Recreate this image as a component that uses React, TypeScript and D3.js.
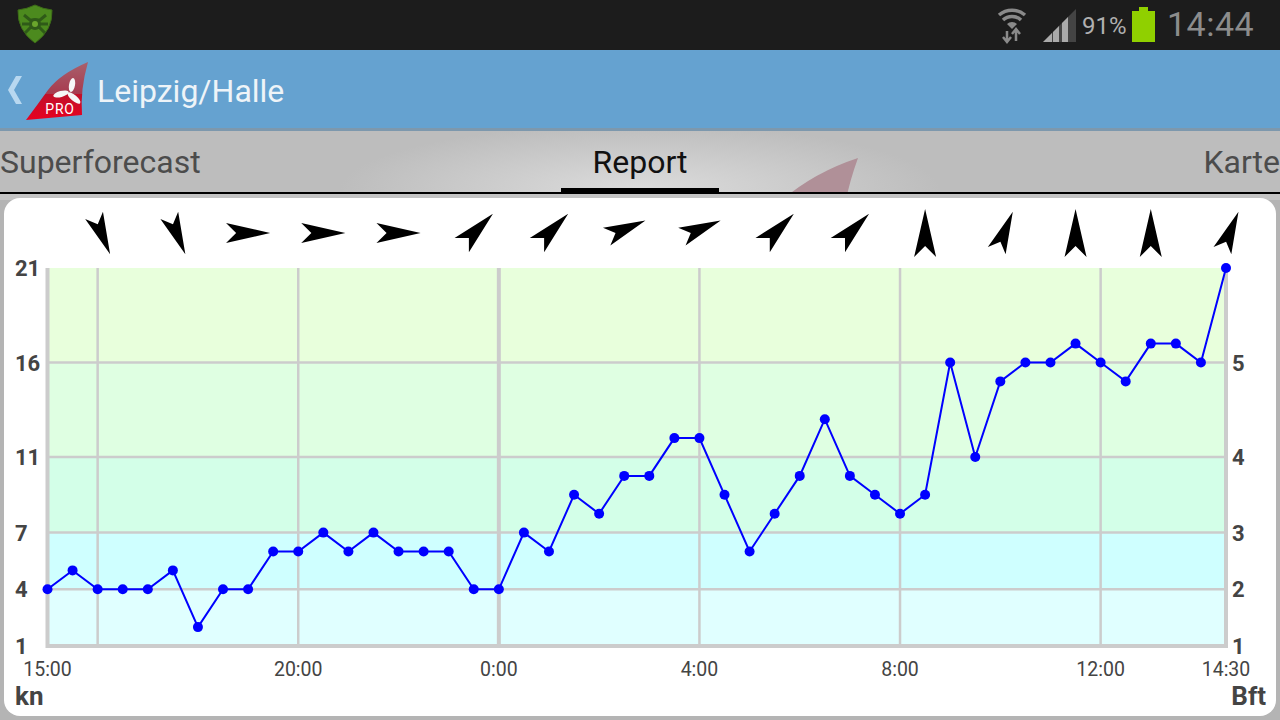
import { useEffect, useRef } from "react";
import * as d3 from "d3";

// wind speed in knots, one reading every 30 min from 15:00 to 14:30
const windKn = [
  4, 5, 4, 4, 4, 5, 2, 4, 4, 6, 6, 7, 6, 7, 6, 6, 6, 4, 4, 7, 6, 9, 8, 10, 10,
  12, 12, 9, 6, 8, 10, 13, 10, 9, 8, 9, 16, 11, 15, 16, 16, 17, 16, 15, 17, 17,
  16, 21,
];
// reading each direction arrow sits over, and its heading (degrees clockwise from north)
const arrowIndex = [2, 5, 8, 11, 14, 17, 20, 23, 26, 29, 32, 35, 38, 41, 44, 47];
const arrowHeading = [
  157.5, 157.5, 90, 90, 90, 45, 45, 67.5, 67.5, 45, 45, 0, 22.5, 0, 0, 22.5,
];
const knTicks = [1, 4, 7, 11, 16, 21];
const bftTicks = [
  { kn: 1, label: "1" },
  { kn: 4, label: "2" },
  { kn: 7, label: "3" },
  { kn: 11, label: "4" },
  { kn: 16, label: "5" },
];
const timeTicks = [
  { i: 0, label: "15:00" },
  { i: 10, label: "20:00" },
  { i: 18, label: "0:00" },
  { i: 26, label: "4:00" },
  { i: 34, label: "8:00" },
  { i: 42, label: "12:00" },
  { i: 47, label: "14:30" },
];
const bands = [
  { from: 1, to: 4, fill: "#e0ffff" },
  { from: 4, to: 7, fill: "#cfffff" },
  { from: 7, to: 11, fill: "#d3ffe8" },
  { from: 11, to: 16, fill: "#dfffe2" },
  { from: 16, to: 21, fill: "#e8ffdc" },
];

const font = "Roboto, sans-serif";

// the arrow is a bitmap in the app: rotated ones shrink a bit and stay centred in their slot
const arrowPoints: [number, number][] = [
  [0, -24],
  [11, 24],
  [-11, 24],
];
function arrowTransform(heading: number, cx: number, cy: number) {
  const scale = heading === 0 ? 1 : heading % 45 === 0 ? 0.92 : 0.875;
  const a = (heading * Math.PI) / 180;
  const rotated = arrowPoints.map(([px, py]) => [
    scale * (px * Math.cos(a) - py * Math.sin(a)),
    scale * (px * Math.sin(a) + py * Math.cos(a)),
  ]);
  const [x0, x1] = d3.extent(rotated, (p) => p[0]) as [number, number];
  const [y0, y1] = d3.extent(rotated, (p) => p[1]) as [number, number];
  const dx = cx - (x0 + x1) / 2;
  const dy = cy - (y0 + y1) / 2;
  return `translate(${dx},${dy}) rotate(${heading}) scale(${scale})`;
}

function Chart() {
  const ref = useRef<SVGGElement>(null);

  useEffect(() => {
    const g = d3.select(ref.current);
    g.selectAll("*").remove();

    const x = d3.scaleLinear().domain([0, windKn.length - 1]).range([47.5, 1226]);
    const y = d3.scaleLinear().domain([1, 21]).range([646, 268]);

    // colour bands
    g.selectAll(".band")
      .data(bands)
      .enter()
      .append("rect")
      .attr("x", x(0))
      .attr("width", x(47) - x(0))
      .attr("y", (d) => y(d.to))
      .attr("height", (d) => y(d.from) - y(d.to))
      .attr("fill", (d) => d.fill);

    // grid
    g.selectAll(".hgrid")
      .data(knTicks.slice(1, 5))
      .enter()
      .append("line")
      .attr("x1", x(0))
      .attr("x2", x(47))
      .attr("y1", (d) => y(d))
      .attr("y2", (d) => y(d))
      .attr("stroke", "#cccccc")
      .attr("stroke-width", 2.5);

    g.selectAll(".vgrid")
      .data([2, 10, 18, 26, 34, 42])
      .enter()
      .append("line")
      .attr("x1", (d) => x(d))
      .attr("x2", (d) => x(d))
      .attr("y1", y(21))
      .attr("y2", y(1))
      .attr("stroke", "#cccccc")
      .attr("stroke-width", (d) => (d === 18 ? 4 : 2.5));

    // frame: left, bottom and right edges
    g.append("path")
      .attr("d", `M${x(0)},${y(21)}V${y(1)}H${x(47)}V${y(21)}`)
      .attr("fill", "none")
      .attr("stroke", "#cccccc")
      .attr("stroke-width", 4);

    // wind line
    const line = d3
      .line<number>()
      .x((_, i) => x(i))
      .y((d) => y(d));
    g.append("path")
      .datum(windKn)
      .attr("d", line)
      .attr("fill", "none")
      .attr("stroke", "#0000ff")
      .attr("stroke-width", 2);

    g.selectAll(".dot")
      .data(windKn)
      .enter()
      .append("circle")
      .attr("cx", (_, i) => x(i))
      .attr("cy", (d) => y(d))
      .attr("r", 5)
      .attr("fill", "#0000ff");

    // direction arrows
    g.selectAll(".arrow")
      .data(arrowHeading)
      .enter()
      .append("path")
      .attr("d", "M0,-24L11,24L0,13L-11,24Z")
      .attr("fill", "#000000")
      .attr("transform", (d, i) => arrowTransform(d, x(arrowIndex[i]), 233));

    // kn axis
    g.selectAll(".kn")
      .data(knTicks)
      .enter()
      .append("text")
      .attr("x", 15)
      .attr("y", (d) => y(d))
      .attr("dy", 8)
      .attr("font-size", 22)
      .attr("font-weight", 700)
      .attr("fill", "#444444")
      .text((d) => d);

    // Bft axis
    g.selectAll(".bft")
      .data(bftTicks)
      .enter()
      .append("text")
      .attr("x", 1232)
      .attr("y", (d) => y(d.kn))
      .attr("dy", 8)
      .attr("font-size", 22)
      .attr("font-weight", 700)
      .attr("fill", "#444444")
      .text((d) => d.label);

    // time axis
    g.selectAll(".time")
      .data(timeTicks)
      .enter()
      .append("text")
      .attr("x", (d) => x(d.i))
      .attr("y", 676)
      .attr("text-anchor", "middle")
      .attr("font-size", 19.5)
      .attr("fill", "#444444")
      .text((d) => d.label);
  }, []);

  return <g ref={ref} />;
}

export default function App() {
  return (
    <svg
      width={1280}
      height={720}
      viewBox="0 0 1280 720"
      style={{ position: "fixed", left: 0, top: 0, fontFamily: font }}
    >
      <defs>
        <radialGradient id="tabGlow" cx="640" cy="190" r="300" gradientUnits="userSpaceOnUse" gradientTransform="translate(0 190) scale(1 0.22) translate(0 -190)">
          <stop offset="0" stopColor="#dcdcdc" />
          <stop offset="1" stopColor="#bdbdbd" />
        </radialGradient>
        <linearGradient id="sail" x1="0" y1="0" x2="0" y2="1">
          <stop offset="0" stopColor="#a8606c" />
          <stop offset="0.55" stopColor="#a83a4e" />
          <stop offset="0.56" stopColor="#c0102a" />
          <stop offset="1" stopColor="#e80020" />
        </linearGradient>
      </defs>

      <rect width={1280} height={720} fill="#b4b4b4" />

      {/* status bar */}
      <rect width={1280} height={50} fill="#1c1c1c" />
      <path d="M35,5 Q27,9 18,10 Q17,30 35,43 Q53,30 52,10 Q43,9 35,5Z" fill="#4c8a1e" stroke="#3c6a18" />
      <path d="M24,15 L30,20 H40 L46,15 M22,24 H48 M25,33 L31,27 H39 L45,33" stroke="#2f5a18" strokeWidth={3} fill="none" />
      <circle cx={35} cy={24} r={6} fill="#2f5a18" />
      <circle cx={35} cy={24} r={3} fill="#6aa62c" />
      <g fill="none" stroke="#8a8a8a" strokeWidth={3.5}>
        <path d="M999,15 A20,20 0 0 1 1025,15" />
        <path d="M1003,20 A13,13 0 0 1 1021,20" />
      </g>
      <path d="M1007,24 A7,7 0 0 1 1017,24 L1012,29 Z" fill="#8a8a8a" />
      <path d="M1007,31 V41 M1003,37 L1007,42 L1011,37 M1016,41 V30 M1012,34 L1016,29 L1020,34" stroke="#8a8a8a" strokeWidth={2.5} fill="none" />
      <path d="M1043,42 L1076,9 V42 Z" fill="#444444" />
      <path d="M1043,42 L1052,33 V42 Z M1053,42 V32 L1059,26 V42 Z M1062,42 V23 L1068,17 V42 Z" fill="#aaaaaa" />
      <text x={1082} y={34} fontSize={24} fill="#b0b0b0">91%</text>
      <rect x={1132} y={11} width={23} height={31} fill="#90d000" />
      <rect x={1139} y={7} width={9} height={5} fill="#90d000" />
      <text x={1167} y={36} fontSize={34} fill="#8c8c8c" letterSpacing={0.5}>14:44</text>

      {/* action bar */}
      <rect y={50} width={1280} height={80} fill="#65a2d0" />
      <rect y={128} width={1280} height={3} fill="#7d98ad" />
      <path d="M22,76 L14,90 L22,104 H16 L8,90 L16,76 Z" fill="#b8d8f0" />
      <path d="M88,62 Q60,74 48,90 Q38,104 26,120 L82,115 Q80,90 88,62Z" fill="url(#sail)" />
      <g fill="#f6f6f6">
        <ellipse cx={72} cy={85} rx={3} ry={7} transform="rotate(10 72 85)" />
        <ellipse cx={61} cy={94} rx={8} ry={3} transform="rotate(-15 61 94)" />
        <ellipse cx={74} cy={98} rx={8} ry={3} transform="rotate(40 74 98)" />
      </g>
      <text x={60} y={114} textAnchor="middle" fontSize={14} letterSpacing={0.8} fill="#ffffff">PRO</text>
      <text x={97} y={102} fontSize={32} fill="#eef4f8">Leipzig/Halle</text>

      {/* tabs */}
      <rect y={131} width={1280} height={61} fill="url(#tabGlow)" />
      <path d="M858,158 Q815,172 782,200 H846 Q850,180 858,158Z" fill="#b09098" />
      <text x={0} y={173} fontSize={32} fill="#4c4c4c">Superforecast</text>
      <text x={640} y={173} textAnchor="middle" fontSize={32} fill="#111111">Report</text>
      <text x={1280} y={173} textAnchor="end" fontSize={32} fill="#4c4c4c">Karte</text>
      <rect x={561} y={188} width={158} height={5} fill="#000000" />
      <rect y={192} width={1280} height={2} fill="#000000" />
      <rect y={194} width={1280} height={6} fill="#c4c4c4" />

      {/* card */}
      <rect x={4} y={198} width={1272} height={518} rx={16} fill="#ffffff" />
      <Chart />
      <text x={15} y={705} fontSize={26} fontWeight={700} fill="#444444">kn</text>
      <text x={1266} y={705} textAnchor="end" fontSize={26} fontWeight={700} fill="#444444">Bft</text>
    </svg>
  );
}
